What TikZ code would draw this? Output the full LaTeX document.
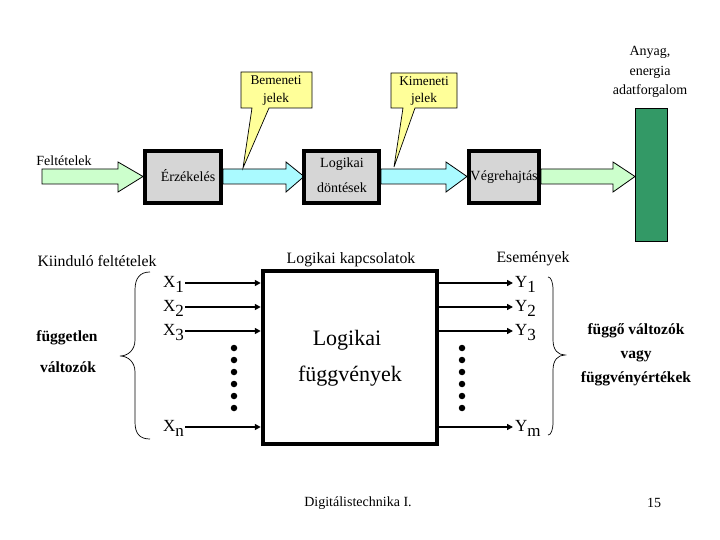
\documentclass[tikz,border=0pt]{standalone}
\usepackage{fontspec}
\setmainfont{Liberation Serif}
\usetikzlibrary{arrows.meta}
\definecolor{lgreen}{RGB}{204,255,204}
\definecolor{lcyan}{RGB}{170,250,255}
\definecolor{boxgray}{RGB}{214,214,214}
\definecolor{lyellow}{RGB}{255,255,153}
\definecolor{dgreen}{RGB}{51,153,102}
\newcommand{\blockarr}[4]{% x0, xhead, xtip, colour
  \filldraw[fill=#4,draw=black,line width=0.8pt]
    (#1,169)--(#2,169)--(#2,162)--(#3,176.5)--(#2,192)--(#2,184)--(#1,184)--cycle;}
\newcommand{\subs}[1]{\raisebox{-0.6ex}{#1}}
\begin{document}
\begin{tikzpicture}[x=1pt,y=-1pt,
  procbox/.style={draw=black,line width=4pt,fill=boxgray,inner sep=0pt},
  callout/.style={fill=lyellow,draw=black,line width=0.7pt},
  txt/.style={inner sep=0pt,font=\fontsize{14}{16}\selectfont},
  ctxt/.style={inner sep=0pt,font=\fontsize{13.3}{15}\selectfont},
  btxt/.style={inner sep=0pt,font=\fontsize{15.5}{17}\selectfont\bfseries},
  mtxt/.style={inner sep=0pt,font=\fontsize{15.8}{18}\selectfont},
  ltxt/.style={inner sep=0pt,font=\fontsize{17}{19}\selectfont},
  inarr/.style={line width=2pt,-{Triangle[length=6pt,width=6pt]}},
  dot/.style={circle,fill=black,inner sep=0pt,minimum size=6.5pt}]
\useasboundingbox (0,0) rectangle (720,540);
\fill[white] (0,0) rectangle (720,540);

% ---------- top row ----------
\blockarr{42}{118}{143}{lgreen}
\blockarr{223}{286}{304}{lcyan}
\blockarr{381}{446}{467}{lcyan}
\blockarr{541}{613}{635}{lgreen}

\node[procbox,minimum width=76pt,minimum height=52pt] (erz) at (183,177) {};
\node[procbox,minimum width=75pt,minimum height=52pt] (logd) at (341.5,177) {};
\node[procbox,minimum width=70pt,minimum height=52pt] (vegr) at (504,177) {};
\node[txt] (erzt) at (188,176) {Érzékelés};
\node[txt] (logt1) at (342,164) {Logikai};
\node[txt] (logt2) at (342,188) {döntések};
\node[txt] (vegt) at (504,177) {V\kern0.5pt égrehajtás};

\filldraw[fill=dgreen,draw=black,line width=0.7pt] (635,108) rectangle (667,241);
\node[txt] (bar) at (651,174.5) {};
\node[txt,align=center] (anyag) at (650,72)
  {Anyag,\\[3.5pt]energia\\[3.5pt]adatforgalom};

\node[txt] (felt) at (64,161) {Feltételek};

% callouts
\filldraw[callout] (241,72)--(312,72)--(312,108)--(269,108)--(243,168)--(252,108)--(241,108)--cycle;
\node[ctxt] (bem1) at (276,80) {Bemeneti};
\node[ctxt] (bem2) at (276,99) {jelek};
\filldraw[callout] (391,73)--(457,73)--(457,108)--(415,108)--(394,167)--(403,108)--(391,108)--cycle;
\node[ctxt] (kim1) at (424,81) {Kimeneti};
\node[ctxt] (kim2) at (424,99) {jelek};

% ---------- bottom ----------
\node[draw=black,line width=4.5pt,minimum width=174pt,minimum height=173pt,inner sep=0pt] (logic) at (350,357.5) {};
\node[inner sep=0pt,font=\fontsize{22}{24}\selectfont] (lf1) at (347,340) {Logikai};
\node[inner sep=0pt,font=\fontsize{22}{24}\selectfont] (lf2) at (350,376) {függvények};
\node[mtxt] (lkap) at (351,260) {Logikai kapcsolatok};
\node[mtxt] (kiin) at (97,261) {Kiinduló feltételek};
\node[mtxt] (esem) at (533,259) {Események};

% input / output lines
\foreach \n/\yy/\s/\t in {1/283/1/1,2/307/2/2,3/331/3/3,n/427/n/m}{
  \coordinate (xs\n) at (185,\yy);
  \node[ltxt,anchor=east] (xl\n) at (184,\yy+1.5) {X\subs{\s}};
  \draw[inarr] (xs\n) -- (xs\n -| logic.west);
  \coordinate (ye\n) at (513,\yy);
  \node[ltxt,anchor=west] (yl\n) at (515,\yy+1.5) {Y\subs{\t}};
  \draw[inarr] (ye\n -| logic.east) -- (ye\n);
}

\foreach \k in {0,...,5}{
  \node[dot] (dl\k) at (234,348+12*\k) {};
  \node[dot] (dr\k) at (462,348+12*\k) {};
}

% braces
\draw[line width=0.7pt] (150,272) .. controls (140,272) and (135,278) .. (135,290) -- (135,340)
  .. controls (135,350) and (128,356) .. (120,356) .. controls (128,356) and (135,362) .. (135,372)
  -- (135,422) .. controls (135,434) and (140,439) .. (150,439);
\draw[line width=0.7pt] (548,277) .. controls (551,277) and (553,282) .. (553,290) -- (553,340)
  .. controls (553,350) and (558,355) .. (565,355) .. controls (558,355) and (553,360) .. (553,370)
  -- (553,422) .. controls (553,430) and (551,435) .. (548,435);

\node[btxt] (fugg) at (67,338) {független};
\node[btxt] (valt) at (68,367) {változók};
\node[btxt] (fv1) at (636,331) {függő változók};
\node[btxt] (fv2) at (636,356) {vagy};
\node[btxt] (fv3) at (636,379) {függvényértékek};

\node[txt] (digi) at (358,503) {Digitálistechnika I.};
\node[txt] (page) at (654,503) {15};
\end{tikzpicture}
\end{document}
